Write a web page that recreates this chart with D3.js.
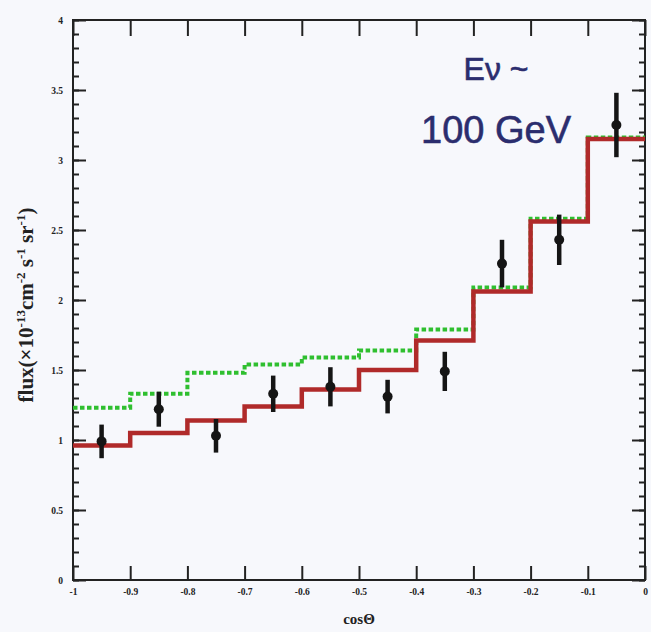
<!DOCTYPE html>
<html>
<head>
<meta charset="utf-8">
<script src="https://cdn.jsdelivr.net/npm/d3@7"></script>
<style>
  html, body { margin: 0; padding: 0; background: #f7f8fc; }
  svg { display: block; }
</style>
</head>
<body>
<script>
// Histogram bin edges in cos(theta)
const binEdges = [-1.0, -0.9, -0.8, -0.7, -0.6, -0.5, -0.4, -0.3, -0.2, -0.1, 0.0];
// Expected flux per bin, solid red model
const modelRed = [0.96, 1.05, 1.14, 1.24, 1.36, 1.50, 1.71, 2.06, 2.56, 3.15];
// Expected flux per bin, dotted green model
const modelGreen = [1.23, 1.33, 1.48, 1.54, 1.59, 1.64, 1.79, 2.09, 2.58, 3.16];
// Measured points with symmetric errors
const dataCos = [-0.95, -0.85, -0.75, -0.65, -0.55, -0.45, -0.35, -0.25, -0.15, -0.05];
const dataFlux = [0.99, 1.22, 1.03, 1.33, 1.38, 1.31, 1.49, 2.26, 2.43, 3.25];
const dataErr = [0.12, 0.125, 0.12, 0.13, 0.14, 0.12, 0.14, 0.17, 0.18, 0.23];
// Axis ticks
const xTicks = [-1, -0.9, -0.8, -0.7, -0.6, -0.5, -0.4, -0.3, -0.2, -0.1, 0];
const xTickLabels = ["-1", "-0.9", "-0.8", "-0.7", "-0.6", "-0.5", "-0.4", "-0.3", "-0.2", "-0.1", "0"];
const yMajor = [0, 0.5, 1, 1.5, 2, 2.5, 3, 3.5, 4];
const yMajorLabels = ["0", "0.5", "1", "1.5", "2", "2.5", "3", "3.5", "4"];
const yMinor = d3.range(0, 4.001, 0.1).map(v => +v.toFixed(2));

const W = 651, H = 632;
const m = { left: 73, right: 6, top: 20, bottom: 52 };

const svg = d3.select("body").append("svg").attr("width", W).attr("height", H);
svg.append("rect").attr("width", W).attr("height", H).attr("fill", "#f7f8fc");

const x = d3.scaleLinear().domain([-1, 0]).range([m.left, W - m.right]);
const y = d3.scaleLinear().domain([0, 4]).range([H - m.bottom, m.top]);

const tickFont = "bold 9.5px 'Liberation Serif', serif";

// Frame
svg.append("rect")
  .attr("x", x(-1)).attr("y", y(4))
  .attr("width", x(0) - x(-1)).attr("height", y(0) - y(4))
  .attr("fill", "none").attr("stroke", "#222").attr("stroke-width", 2);

function styleAxis(g) {
  g.select(".domain").remove();
  g.selectAll(".tick line").attr("stroke", "#222").attr("stroke-width", 2);
  g.selectAll(".tick text").style("font", tickFont).attr("fill", "#222");
}

// Bottom axis with labels
svg.append("g").attr("transform", `translate(0,${y(0)})`)
  .call(d3.axisBottom(x).tickValues(xTicks).tickSizeInner(-14).tickSizeOuter(0).tickPadding(8)
    .tickFormat((d, i) => xTickLabels[i]))
  .call(styleAxis);
// Top axis, ticks only
svg.append("g").attr("transform", `translate(0,${y(4)})`)
  .call(d3.axisTop(x).tickValues(xTicks).tickSizeInner(-16).tickSizeOuter(0).tickFormat(""))
  .call(styleAxis);

// Left axis: minor then major with labels
svg.append("g").attr("transform", `translate(${x(-1)},0)`)
  .call(d3.axisLeft(y).tickValues(yMinor).tickSizeInner(-6).tickSizeOuter(0).tickFormat(""))
  .call(styleAxis);
svg.append("g").attr("transform", `translate(${x(-1)},0)`)
  .call(d3.axisLeft(y).tickValues(yMajor).tickSizeInner(-13).tickSizeOuter(0).tickPadding(10)
    .tickFormat((d, i) => yMajorLabels[i]))
  .call(styleAxis);
// Right axis mirror
svg.append("g").attr("transform", `translate(${x(0)},0)`)
  .call(d3.axisRight(y).tickValues(yMinor).tickSizeInner(-6).tickSizeOuter(0).tickFormat(""))
  .call(styleAxis);
svg.append("g").attr("transform", `translate(${x(0)},0)`)
  .call(d3.axisRight(y).tickValues(yMajor).tickSizeInner(-13).tickSizeOuter(0).tickFormat(""))
  .call(styleAxis);

// Step histograms
const stepLine = d3.line().x(d => x(d[0])).y(d => y(d[1])).curve(d3.curveStepAfter);
function stepPoints(vals) {
  const pts = vals.map((v, i) => [binEdges[i], v]);
  pts.push([binEdges[binEdges.length - 1], vals[vals.length - 1]]);
  return pts;
}

svg.append("path")
  .attr("d", stepLine(stepPoints(modelGreen)))
  .attr("fill", "none").attr("stroke", "#2fbf2f").attr("stroke-width", 4)
  .attr("stroke-dasharray", "4.5,2.5");

svg.append("path")
  .attr("d", stepLine(stepPoints(modelRed)))
  .attr("fill", "none").attr("stroke", "#b02a2a").attr("stroke-width", 4.5);

// Data points with error bars
const pts = svg.append("g");
dataCos.forEach((c, i) => {
  pts.append("line")
    .attr("x1", x(c)).attr("x2", x(c))
    .attr("y1", y(dataFlux[i] - dataErr[i])).attr("y2", y(dataFlux[i] + dataErr[i]))
    .attr("stroke", "#151515").attr("stroke-width", 4.5);
  pts.append("circle")
    .attr("cx", x(c)).attr("cy", y(dataFlux[i])).attr("r", 5)
    .attr("fill", "#151515");
});

// Axis titles
svg.append("text")
  .attr("x", x(-0.5)).attr("y", 624)
  .attr("text-anchor", "middle")
  .style("font", "bold 15px 'Liberation Serif', serif").attr("fill", "#222")
  .text("cosΘ");

const yt = svg.append("text")
  .attr("transform", "translate(33,305) rotate(-90)")
  .attr("text-anchor", "middle")
  .style("font", "bold 21px 'Liberation Serif', serif").attr("fill", "#222");
yt.append("tspan").text("flux(×10");
yt.append("tspan").attr("dy", -8).style("font-size", "13px").text("-13");
yt.append("tspan").attr("dy", 8).text("cm");
yt.append("tspan").attr("dy", -8).style("font-size", "13px").text("-2");
yt.append("tspan").attr("dy", 8).text(" s");
yt.append("tspan").attr("dy", -8).style("font-size", "13px").text("-1");
yt.append("tspan").attr("dy", 8).text(" sr");
yt.append("tspan").attr("dy", -8).style("font-size", "13px").text("-1");
yt.append("tspan").attr("dy", 8).text(")");

// Energy annotation
const ann = svg.append("g").attr("fill", "#2b2d6e")
  .attr("stroke", "#2b2d6e").attr("stroke-width", 0.6)
  .style("font-family", "'Liberation Sans', Arial, sans-serif");
ann.append("text").attr("x", 496).attr("y", 80).attr("text-anchor", "middle")
  .style("font-size", "32px").text("Eν ~");
ann.append("text").attr("x", 496).attr("y", 143).attr("text-anchor", "middle")
  .style("font-size", "38px").text("100 GeV");
</script>
</body>
</html>
